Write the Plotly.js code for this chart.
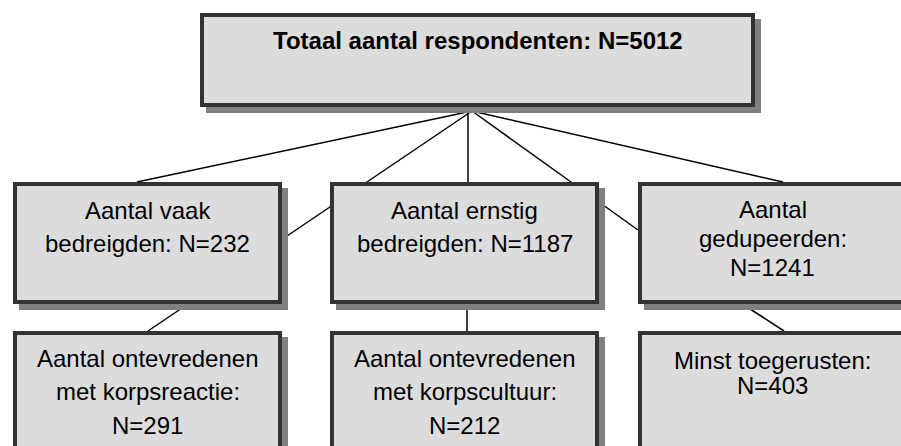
<!DOCTYPE html>
<html>
<head>
<meta charset="utf-8">
<script src="https://cdn.plot.ly/plotly-3.0.1.min.js"></script>
<style>
  html, body { margin: 0; padding: 0; background: #ffffff; }
  #chart { width: 901px; height: 446px; }
</style>
</head>
<body>
<div id="chart"></div>
<script>
// ---- data (text of the diagram) ----
const boxTitles = [
  ['Totaal aantal respondenten:'],
  ['Aantal vaak', 'bedreigden:'],
  ['Aantal ernstig', 'bedreigden:'],
  ['Aantal', 'gedupeerden:'],
  ['Aantal ontevredenen', 'met korpsreactie:'],
  ['Aantal ontevredenen', 'met korpscultuur:'],
  ['Minst toegerusten:']
];
const boxN = [5012, 232, 1187, 1241, 291, 212, 403];
const nOnSameLine = [true, true, true, false, false, false, false];
const boxBold = [true, false, false, false, false, false, false];

// ---- geometry (layout only) ----
// outer edges [x0, y0, x1, y1], first text line centre y, line spacing
const boxGeom = [
  {x0: 200, y0: 13,  x1: 755, y1: 107, ty: 40,  ls: 34},
  {x0: 13,  y0: 182, x1: 282, y1: 304, ty: 210, ls: 33.5},
  {x0: 330, y0: 182, x1: 599, y1: 304, ty: 210, ls: 33.5},
  {x0: 638, y0: 182, x1: 907, y1: 304, ty: 209.5, ls: 29},
  {x0: 13,  y0: 331, x1: 282, y1: 460, ty: 358, ls: 33.5},
  {x0: 330, y0: 331, x1: 599, y1: 460, ty: 358, ls: 33.5},
  {x0: 638, y0: 331, x1: 907, y1: 460, ty: 360, ls: 25.5}
];
const connectors = [
  [472, 111, 137, 182],
  [472, 111, 287, 236],
  [468, 111, 468, 182],
  [472, 111, 638, 230],
  [472, 111, 783, 182],
  [188, 304, 148, 331],
  [467, 305, 467, 331],
  [744, 305, 784, 331]
];

const FILL = '#dcdcdc', BORDER = '#333333', SHADOW = '#808080';
const SH = 6, BW = 4, FS = 24;

const shapes = [];
connectors.forEach(c => shapes.push({
  type: 'line', xref: 'x', yref: 'y', x0: c[0], y0: c[1], x1: c[2], y1: c[3],
  line: {color: '#000000', width: 1.5}
}));
boxGeom.forEach(g => shapes.push({
  type: 'rect', xref: 'x', yref: 'y', x0: g.x0 + SH, y0: g.y0 + SH, x1: g.x1 + SH, y1: g.y1 + SH,
  fillcolor: SHADOW, line: {width: 0}
}));
boxGeom.forEach(g => shapes.push({
  type: 'rect', xref: 'x', yref: 'y', x0: g.x0 + BW / 2, y0: g.y0 + BW / 2, x1: g.x1 - BW / 2, y1: g.y1 - BW / 2,
  fillcolor: FILL, line: {color: BORDER, width: BW}
}));

const annotations = [];
boxTitles.forEach((title, i) => {
  const lines = title.slice();
  if (nOnSameLine[i]) lines[lines.length - 1] += ' N=' + boxN[i];
  else lines.push('N=' + boxN[i]);
  const g = boxGeom[i];
  const cx = (g.x0 + g.x1) / 2;
  lines.forEach((t, k) => annotations.push({
    xref: 'x', yref: 'y', x: cx, y: g.ty + k * g.ls,
    text: boxBold[i] ? '<b>' + t + '</b>' : t,
    showarrow: false, xanchor: 'center', yanchor: 'middle',
    font: {family: 'Liberation Sans, Arial, sans-serif', size: FS, color: '#000000'}
  }));
});

const layout = {
  width: 901, height: 446,
  margin: {l: 0, r: 0, t: 0, b: 0, pad: 0},
  paper_bgcolor: '#ffffff', plot_bgcolor: '#ffffff',
  xaxis: {range: [0, 901], visible: false, fixedrange: true},
  yaxis: {range: [446, 0], visible: false, fixedrange: true},
  showlegend: false,
  shapes: shapes,
  annotations: annotations
};

Plotly.newPlot('chart', [{x: [], y: [], type: 'scatter', mode: 'markers', hoverinfo: 'skip'}], layout,
  {staticPlot: true, displayModeBar: false});
</script>
</body>
</html>
